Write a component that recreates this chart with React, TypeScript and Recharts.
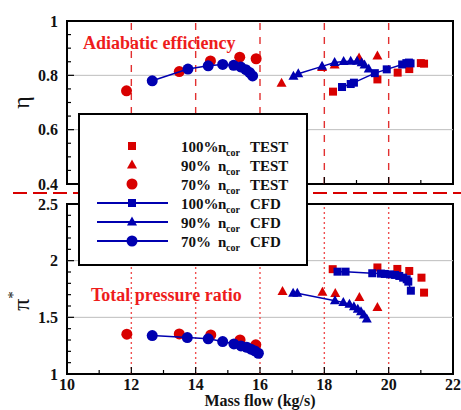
import { ReferenceArea, ReferenceLine, Scatter, ScatterChart, XAxis, YAxis } from "recharts"

const FONT = '"Liberation Serif", "Times New Roman", Times, serif'
const RED = "#d80000"
const TITLE_RED = "#ee1c1c"
const BLUE = "#0000b0"

// axes
const flowTicks = [10, 11, 12, 13, 14, 15, 16, 17, 18, 19, 20, 21, 22]
const flowLabels = [10, 12, 14, 16, 18, 20, 22]
const flowGuides = [12, 14, 16, 18, 20]
const etaTicks = [0.4, 0.45, 0.5, 0.55, 0.6, 0.65, 0.7, 0.75, 0.8, 0.85, 0.9, 0.95, 1]
const etaLabels = [0.4, 0.6, 0.8, 1]
const etaGuides = [0.6, 0.8]
const piTicks = [1, 1.1, 1.2, 1.3, 1.4, 1.5, 1.6, 1.7, 1.8, 1.9, 2, 2.1, 2.2, 2.3, 2.4, 2.5]
const piLabels = [1, 1.5, 2, 2.5]
const piGuides = [1.5, 2]

const speeds = ["100%", "90%", "70%"]

// adiabatic efficiency, mass flow in kg/s
const effTest100Flow = [18.27, 19.65, 20.28, 20.64, 21.0, 21.1]
const effTest100 = [0.74, 0.785, 0.81, 0.823, 0.845, 0.843]
const effTest90Flow = [16.67, 17.93, 18.32, 19.08, 19.65]
const effTest90 = [0.771, 0.829, 0.838, 0.864, 0.871]
const effTest70Flow = [11.85, 13.49, 14.46, 15.37, 15.88]
const effTest70 = [0.743, 0.814, 0.853, 0.867, 0.861]
const effCfd100Flow = [18.55, 18.82, 18.92, 19.57, 19.94, 20.42, 20.55, 20.63, 20.68]
const effCfd100 = [0.757, 0.768, 0.773, 0.808, 0.822, 0.84, 0.845, 0.847, 0.844]
const effCfd90Flow = [17.04, 17.19, 17.93, 18.32, 18.6, 18.82, 19.02, 19.16, 19.25, 19.38]
const effCfd90 = [0.797, 0.806, 0.833, 0.847, 0.851, 0.852, 0.852, 0.846, 0.838, 0.823]
const effCfd70Flow = [12.65, 13.76, 14.39, 14.84, 15.18, 15.4, 15.56, 15.68, 15.77]
const effCfd70 = [0.78, 0.823, 0.835, 0.84, 0.837, 0.831, 0.821, 0.81, 0.798]

// total pressure ratio
const prTest100Flow = [18.26, 19.65, 20.27, 20.64, 21.02, 21.1]
const prTest100 = [1.925, 1.94, 1.927, 1.909, 1.85, 1.718]
const prTest90Flow = [16.7, 17.94, 18.34, 19.09, 19.65]
const prTest90 = [1.727, 1.721, 1.711, 1.674, 1.586]
const prTest70Flow = [11.86, 13.49, 14.47, 15.38, 15.87]
const prTest70 = [1.351, 1.354, 1.345, 1.3, 1.257]
const prCfd100Flow = [18.41, 18.66, 19.49, 19.76, 19.88, 20.04, 20.2, 20.33, 20.45, 20.56, 20.61, 20.69]
const prCfd100 = [1.903, 1.903, 1.889, 1.886, 1.883, 1.879, 1.874, 1.865, 1.85, 1.836, 1.815, 1.735]
const prCfd90Flow = [17.03, 17.16, 18.33, 18.59, 18.78, 18.92, 19.04, 19.14, 19.23, 19.32]
const prCfd90 = [1.712, 1.712, 1.647, 1.63, 1.616, 1.594, 1.571, 1.55, 1.521, 1.486]
const prCfd70Flow = [12.65, 13.74, 14.39, 14.84, 15.19, 15.41, 15.59, 15.72, 15.84, 15.95]
const prCfd70 = [1.339, 1.321, 1.31, 1.286, 1.265, 1.248, 1.236, 1.219, 1.204, 1.183]

type Kind = "square" | "triangle" | "circle"
type Pt = { x: number; y: number }
const kinds: Kind[] = ["square", "triangle", "circle"]

const pts = (xs: number[], ys: number[]): Pt[] => xs.map((x, i) => ({ x, y: ys[i] }))

const effTest = [pts(effTest100Flow, effTest100), pts(effTest90Flow, effTest90), pts(effTest70Flow, effTest70)]
const effCfd = [pts(effCfd100Flow, effCfd100), pts(effCfd90Flow, effCfd90), pts(effCfd70Flow, effCfd70)]
const prTest = [pts(prTest100Flow, prTest100), pts(prTest90Flow, prTest90), pts(prTest70Flow, prTest70)]
const prCfd = [pts(prCfd100Flow, prCfd100), pts(prCfd90Flow, prCfd90), pts(prCfd70Flow, prCfd70)]

function Marker({ kind, cx, cy, color }: { kind: Kind; cx: number; cy: number; color: string }) {
  if (kind === "square") return <rect x={cx - 4} y={cy - 4} width={8} height={8} fill={color} />
  if (kind === "triangle")
    return <polygon points={`${cx},${cy - 5.5} ${cx - 5},${cy + 3.5} ${cx + 5},${cy + 3.5}`} fill={color} />
  return <circle cx={cx} cy={cy} r={5.5} fill={color} />
}

const shapeFor = (kind: Kind, color: string) => (p: any) => <Marker kind={kind} cx={p.cx} cy={p.cy} color={color} />

// inward ticks, minor ones shorter
const valueTick = (labels: number[]) => (p: any) => {
  const v = p.payload.value
  const ax = p.x + 9
  const major = labels.includes(v)
  return (
    <g>
      <line x1={ax} x2={ax + (major ? 7 : 4)} y1={p.y} y2={p.y} stroke="#000" strokeWidth={1.2} />
      {major && (
        <text x={p.x} y={p.y + 5.5} textAnchor="end" fontFamily={FONT} fontWeight="bold" fontSize={16} fill="#111">
          {v}
        </text>
      )}
    </g>
  )
}

const flowTick = (showLabels: boolean) => (p: any) => {
  const v = p.payload.value
  const major = flowLabels.includes(v)
  return (
    <g>
      <line x1={p.x} x2={p.x} y1={p.y} y2={p.y - (major ? 7 : 4)} stroke="#000" strokeWidth={1.2} />
      {showLabels && major && (
        <text x={p.x} y={p.y + 16} textAnchor="middle" fontFamily={FONT} fontWeight="bold" fontSize={16} fill="#111">
          {v}
        </text>
      )}
    </g>
  )
}

const etaTitle = (p: any) => {
  const vb = p.viewBox
  const cx = vb.x + 12
  const cy = vb.y + vb.height / 2
  return (
    <text x={cx} y={cy} transform={`rotate(-90 ${cx} ${cy})`} textAnchor="middle" fontFamily={FONT} fontSize={24} fill="#111">
      η
    </text>
  )
}

const piTitle = (p: any) => {
  const vb = p.viewBox
  const cx = vb.x + 12
  const cy = vb.y + vb.height / 2 + 12
  return (
    <text x={cx} y={cy} transform={`rotate(-90 ${cx} ${cy})`} textAnchor="middle" fontFamily={FONT} fontSize={24} fill="#111">
      π<tspan fontSize={15} dy={-11}>*</tspan>
    </text>
  )
}

const flowTitle = (p: any) => {
  const vb = p.viewBox
  return (
    <text x={vb.x + vb.width / 2} y={vb.y + 32} textAnchor="middle" fontFamily={FONT} fontWeight="bold" fontSize={16} fill="#111">
      Mass flow (kg/s)
    </text>
  )
}

type PanelProps = {
  top: number
  height: number
  marginTop: number
  axisHeight: number
  domain: [number, number]
  ticks: number[]
  labels: number[]
  guides: number[]
  dash: string
  dashColor: string
  test: Pt[][]
  cfd: Pt[][]
  showFlow: boolean
  yTitle: (p: any) => any
}

function Panel(props: PanelProps) {
  const { top, height, marginTop, axisHeight, domain, ticks, labels, guides, dash, dashColor, test, cfd, showFlow, yTitle } = props
  return (
    <div style={{ position: "absolute", left: 0, top, width: 461, height }}>
      <ScatterChart width={461} height={height} margin={{ top: marginTop, right: 8, bottom: 0, left: 17 }}>
        <XAxis
          type="number"
          dataKey="x"
          domain={[10, 22]}
          ticks={flowTicks}
          interval={0}
          height={axisHeight}
          tickSize={0}
          tickMargin={0}
          tickLine={false}
          axisLine={false}
          tick={flowTick(showFlow)}
          label={showFlow ? flowTitle : undefined}
        />
        <YAxis
          type="number"
          dataKey="y"
          domain={domain}
          ticks={ticks}
          interval={0}
          width={50}
          tickSize={0}
          tickMargin={9}
          tickLine={false}
          axisLine={false}
          tick={valueTick(labels)}
          label={yTitle}
        />
        {guides.map((g) => (
          <ReferenceLine key={"g" + g} y={g} stroke="#bdbdbd" strokeWidth={1} />
        ))}
        {flowGuides.map((m) => (
          <ReferenceLine key={"m" + m} x={m} stroke={dashColor} strokeWidth={1.4} strokeDasharray={dash} />
        ))}
        <ReferenceArea x1={10} x2={22} y1={domain[0]} y2={domain[1]} fill="none" stroke="#000" strokeWidth={2} ifOverflow="visible" />
        {test.map((d, i) => (
          <Scatter key={"t" + i} data={d} fill={RED} shape={shapeFor(kinds[i], RED)} isAnimationActive={false} />
        ))}
        {cfd.map((d, i) => (
          <Scatter
            key={"c" + i}
            data={d}
            fill={BLUE}
            line={{ stroke: BLUE, strokeWidth: 1.5 }}
            shape={shapeFor(kinds[i], BLUE)}
            isAnimationActive={false}
          />
        ))}
      </ScatterChart>
    </div>
  )
}

const legendRows = [
  ...kinds.map((kind, i) => ({ kind, speed: speeds[i], source: "TEST", color: RED, line: false })),
  ...kinds.map((kind, i) => ({ kind, speed: speeds[i], source: "CFD", color: BLUE, line: true })),
]

function Overlay() {
  return (
    <svg width={461} height={410} style={{ position: "absolute", left: 0, top: 0, pointerEvents: "none" }}>
      <text x={83} y={49} fill={TITLE_RED} fontFamily={FONT} fontWeight="bold" fontSize={18}>
        Adiabatic efficiency
      </text>
      <text x={91} y={301} fill={TITLE_RED} fontFamily={FONT} fontWeight="bold" fontSize={18}>
        Total pressure ratio
      </text>
      <line x1={13} x2={461} y1={193} y2={193} stroke={RED} strokeWidth={2} strokeDasharray="14 6" />
      <rect x={79} y={114} width={228} height={151} fill="#fff" stroke="#000" strokeWidth={2} />
      {legendRows.map((r, i) => {
        const y = 146 + i * 19
        return (
          <g key={i} fontFamily={FONT} fontWeight="bold" fill="#111">
            {r.line && <line x1={97} x2={168} y1={y} y2={y} stroke={BLUE} strokeWidth={2} />}
            <Marker kind={r.kind} cx={132} cy={y} color={r.color} />
            <text x={181} y={y + 5.5} fontSize={15}>
              {r.speed}
            </text>
            <text x={218} y={y + 5.5} fontSize={15}>
              n
            </text>
            <text x={226} y={y + 10} fontSize={10}>
              cor
            </text>
            <text x={250} y={y + 5.5} fontSize={15}>
              {r.source}
            </text>
          </g>
        )
      })}
    </svg>
  )
}

export default function App() {
  return (
    <div style={{ position: "absolute", left: 0, top: 0, width: 461, height: 410, background: "#fff" }}>
      <Panel
        top={0}
        height={195}
        marginTop={21}
        axisHeight={11}
        domain={[0.4, 1]}
        ticks={etaTicks}
        labels={etaLabels}
        guides={etaGuides}
        dash="7 7"
        dashColor="#e23030"
        test={effTest}
        cfd={effCfd}
        showFlow={false}
        yTitle={etaTitle}
      />
      <Panel
        top={195}
        height={215}
        marginTop={9}
        axisHeight={36}
        domain={[1, 2.5]}
        ticks={piTicks}
        labels={piLabels}
        guides={piGuides}
        dash="2 3"
        dashColor="#ef5050"
        test={prTest}
        cfd={prCfd}
        showFlow={true}
        yTitle={piTitle}
      />
      <Overlay />
    </div>
  )
}
